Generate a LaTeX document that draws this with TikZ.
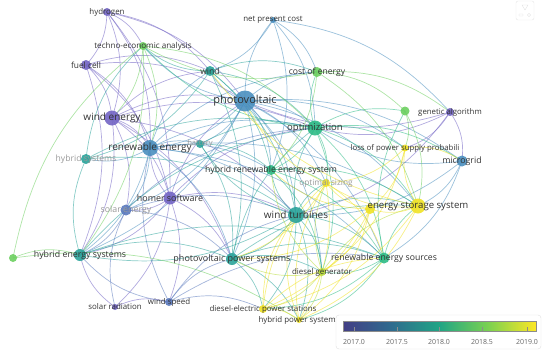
\documentclass[tikz,border=0pt]{standalone}
\usepackage{fontspec}
\setmainfont{Open Sans}
\usetikzlibrary{calc}

% overlay colours (publication year)
\definecolor{yrA}{HTML}{7264C4}
\definecolor{yrB}{HTML}{5A79BD}
\definecolor{yrC}{HTML}{4A8FBF}
\definecolor{yrD}{HTML}{2AA39A}
\definecolor{yrE}{HTML}{2DBB86}
\definecolor{yrF}{HTML}{6CCF5F}
\definecolor{yrG}{HTML}{B8DC3C}
\definecolor{yrH}{HTML}{F0E224}
% colour bar
\definecolor{vA}{HTML}{433E85}
\definecolor{vB}{HTML}{2F6B8E}
\definecolor{vC}{HTML}{21A585}
\definecolor{vD}{HTML}{7AD151}
\definecolor{vE}{HTML}{FDE725}
\pgfdeclarehorizontalshading{viridisbar}{100bp}{color(0bp)=(vA); color(25bp)=(vA); color(37.5bp)=(vB); color(50bp)=(vC); color(62.5bp)=(vD); color(75bp)=(vE); color(100bp)=(vE)}

\begin{document}
\begin{tikzpicture}[x=1pt, y=-1pt,
    link/.style={draw=#1, line width=0.7pt, draw opacity=0.55, bend left=20},
    dot/.style={circle, fill=#1, fill opacity=0.9, inner sep=0pt},
    lab/.style={inner sep=0pt, text=black!80},
    faded/.style={inner sep=0pt, text=black!40}]
    \useasboundingbox (0,0) rectangle (550,354);
    % positions of the keywords
    \foreach \n/\x/\y in {hyd/107/12, npc/273/20, tea/143/46, fc/86/65, wind/210/71,
        pv/245/101, coe/317/72, ga/450/112, gx/405/111, opt/315/128, we/112/118,
        re/150/148, bat/200/144, hs/86/159, lpsp/405/148, mg/462/161, hres/271/170,
        os/326/183, homer/170/198, ess/418/206, esx/370/209, wt/296/215, se/126/210,
        hes/80/255, gl/13/258, pvps/232/259, res/384/258, dg/322/272, sr/115/307,
        ws/169/302, deps/263/309, hps/299/320}
        \coordinate (\n) at (\x,\y);
    % links 2017
    \foreach \a/\b in {hyd/fc, hyd/we, hyd/re, hyd/homer, hyd/pv, hyd/tea, fc/we, fc/re,
        fc/homer, fc/pv, fc/wind, fc/hes, we/re, we/pv, we/wind, we/homer, we/hes, we/wt,
        we/se, we/opt, we/pvps, homer/se, homer/sr, homer/ws, homer/re, homer/pv,
        homer/hes, homer/wt, homer/pvps, homer/opt, sr/hes, sr/ws, ga/opt, ga/mg, ga/pv,
        ga/lpsp, hyd/wind, ga/wt}
        \draw[link=yrA] (\a) to (\b);
    \foreach \a/\b in {se/hes, se/pvps, se/wt, ws/hes, ws/pvps, ws/wt, ws/deps, ws/re,
        sr/se, ws/res, se/opt}
        \draw[link=yrB] (\a) to (\b);
    % links 2017.5
    \foreach \a/\b in {pv/wind, pv/opt, pv/re, pv/wt, pv/pvps, pv/hres, pv/coe, pv/npc,
        pv/ess, pv/mg, pv/res, pv/hes, pv/bat, pv/tea, pv/lpsp, pv/os, pv/dg, re/wind,
        re/opt, re/hes, re/pvps, re/wt, re/hs, re/bat, re/se, re/res, re/hres, mg/opt,
        mg/ess, mg/wt, mg/res, npc/wind, npc/opt, npc/coe, npc/ga, npc/hres, pv/se,
        re/ess, re/coe}
        \draw[link=yrC] (\a) to (\b);
    % links 2018
    \foreach \a/\b in {wind/opt, wind/wt, wind/coe, wind/tea, wind/hres, wind/hs,
        wt/opt, wt/pvps, wt/hres, wt/ess, wt/res, wt/dg, wt/deps, wt/hes, wt/os, wt/bat,
        wt/hps, hes/pvps, hes/hs, hes/opt, hes/res, pvps/opt, pvps/deps, pvps/hps,
        pvps/dg, pvps/res, pvps/ess, hs/opt, hs/tea, bat/opt, bat/hres, wind/pvps,
        hs/wt, bat/pvps}
        \draw[link=yrD] (\a) to (\b);
    \foreach \a/\b in {opt/coe, opt/hres, opt/res, opt/ess, opt/lpsp, opt/os, opt/gx,
        opt/tea, res/ess, res/dg, res/deps, res/hps, res/gx, hres/ess, hres/os,
        hres/res, opt/mg, hres/dg, opt/dg}
        \draw[link=yrE] (\a) to (\b);
    \foreach \a/\b in {coe/tea, coe/gx, coe/hres, coe/ess, coe/ga, tea/hes, tea/we,
        tea/re, gx/ess, gx/lpsp, gl/hes, gl/tea, gl/hps, tea/opt}
        \draw[link=yrF] (\a) to (\b);
    % links 2019
    \foreach \a/\b in {dg/deps, dg/hps, dg/ess, dg/os, dg/hres, dg/pvps}
        \draw[link=yrG] (\a) to (\b);
    \foreach \a/\b in {ess/lpsp, ess/os, ess/deps, ess/hps, ess/esx, lpsp/os, lpsp/esx,
        lpsp/dg, deps/hps, deps/os, esx/os, esx/dg, hps/os, esx/hres, lpsp/mg,
        esx/deps, esx/hps, os/hps, os/pv, os/pvps, deps/wt, hps/wt, esx/pvps,
        deps/res, os/res, ess/wind}
        \draw[link=yrH] (\a) to (\b);
    % circles
    \foreach \n/\d/\c in {hyd/8/yrA, npc/6/yrC, tea/8/yrF, fc/10/yrA, wind/10/yrD,
        pv/21/yrC, coe/10/yrF, ga/8/yrA, gx/9/yrF, opt/15/yrE, we/15/yrA, re/16/yrC,
        bat/8/yrD, hs/10/yrD, lpsp/7/yrH, mg/11/yrC, hres/10/yrE, os/8/yrH,
        homer/13/yrA, ess/15/yrH, esx/10/yrH, wt/16/yrD, se/11/yrB, hes/12/yrD,
        gl/8/yrF, pvps/12/yrD, res/11/yrE, dg/8/yrG, sr/6/yrA, ws/8/yrB, deps/8/yrH,
        hps/6/yrH}
        \node[dot=\c, minimum size=\d pt] (\n-dot) at (\n) {};
    % labels
    \foreach \n/\s/\t in {hyd/7.9/hydrogen, npc/7.9/net present cost,
        tea/8.1/techno-economic analysis, fc/8.4/fuel cell, wind/8.6/wind,
        pv/11/photovoltaic, coe/8.6/cost of energy, ga/7.8/genetic algorithm,
        opt/9.5/optimization, we/10/wind energy, re/10/renewable energy,
        lpsp/7.8/loss of power supply probabili, mg/8.8/microgrid,
        hres/8.7/hybrid renewable energy system, homer/8.9/homer software,
        ess/9.6/energy storage system, wt/10/wind turbines,
        hes/8.8/hybrid energy systems, pvps/9/photovoltaic power systems,
        res/8.7/renewable energy sources, dg/7.9/diesel generator,
        sr/7.9/solar radiation, ws/7.9/wind speed,
        deps/7.9/diesel-electric power stations, hps/7.9/hybrid power systems}
        \node[lab, font=\fontsize{\s}{\s}\selectfont] (\n-lab) at (\n) {\t};
    \foreach \n/\s/\t in {bat/7.6/battery, hs/8.6/hybrid systems, os/8.3/optimal sizing,
        se/8.8/solar energy}
        \node[faded, font=\fontsize{\s}{\s}\selectfont] (\n-lab) at (\n) {\t};
    % legend
    \path[draw=black!12, fill=white, rounded corners=3pt] (336,315) rectangle (541,349);
    \shade[shading=viridisbar] (343,321) rectangle (536,331);
    \path[draw=black!45, line width=0.4pt] (343,321) rectangle (536,331);
    \foreach \v/\x in {2017.0/354, 2017.5/397, 2018.0/439, 2018.5/482, 2019.0/527} {
        \path[draw=black!45, line width=0.4pt] (\x,327) -- (\x,331);
        \node[inner sep=0pt, text=black!60, font=\fontsize{7}{7}\selectfont] (t\x) at (\x,342) {\v};
    }
    % tool icon
    \path[draw=black!10, rounded corners=2pt] (516,1) rectangle (534,20);
    \path[draw=black!12, line width=0.4pt] (522,5) -- (528,5) -- (525,10) -- cycle;
    \path[draw=black!12, line width=0.4pt] (519,14) rectangle (523,16) (529,15) circle (1.6);
\end{tikzpicture}
\end{document}
